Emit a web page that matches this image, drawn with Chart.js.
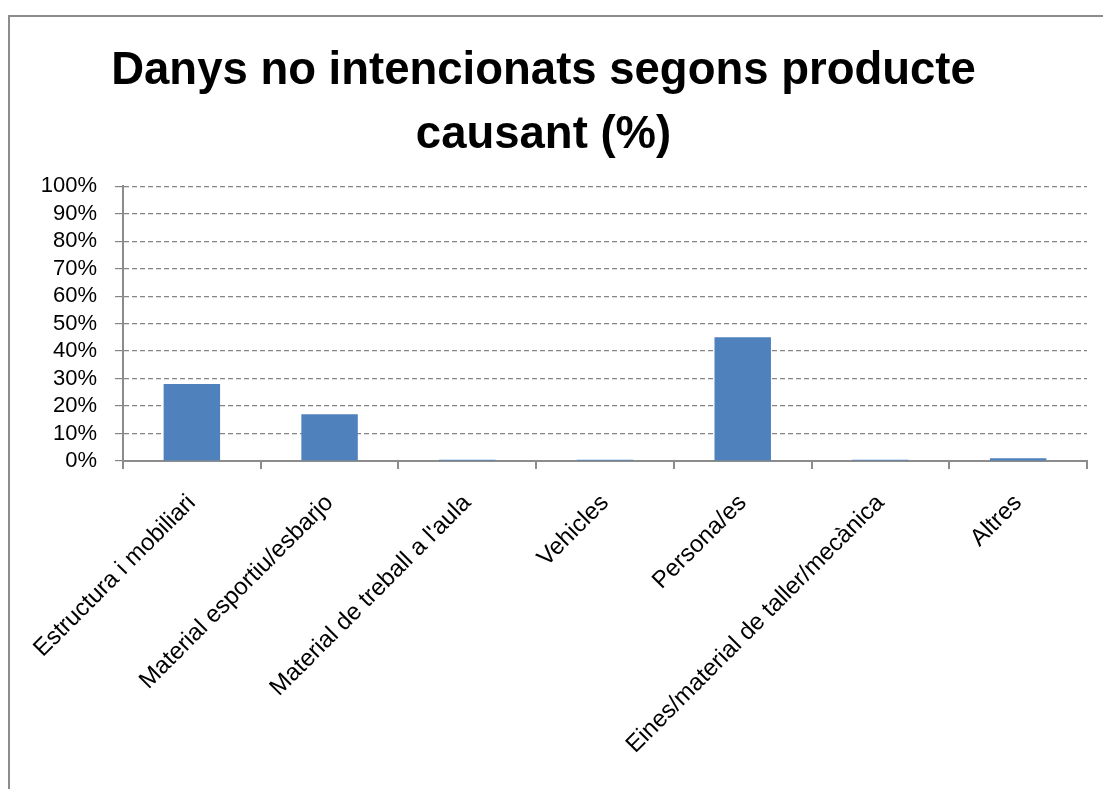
<!DOCTYPE html>
<html>
<head>
<meta charset="utf-8">
<script src="https://cdn.jsdelivr.net/npm/chart.js@4"></script>
<style>
  body { margin: 0; background: #fff; overflow: hidden; }
  #frame {
    position: absolute; left: 8px; top: 15px;
    width: 1200px; height: 900px;
    border: 2px solid #8c8c8c; box-sizing: border-box;
  }
  #wrap { position: absolute; left: 0; top: 0; width: 1103px; height: 789px; }
</style>
</head>
<body>
<div id="frame"></div>
<div id="wrap"><canvas id="chart"></canvas></div>
<script>
// chart data
const categories = [
  "Estructura i mobiliari",
  "Material esportiu/esbarjo",
  "Material de treball a l'aula",
  "Vehicles",
  "Persona/es",
  "Eines/material de taller/mecànica",
  "Altres"
];
const percentages = [28, 17, 0.5, 0.5, 45, 0.5, 1];
const yTicks = [0, 10, 20, 30, 40, 50, 60, 70, 80, 90, 100];

const font = "'Liberation Sans', Arial, sans-serif";

new Chart(document.getElementById("chart"), {
  type: "bar",
  data: {
    labels: categories,
    datasets: [{
      data: percentages,
      backgroundColor: "#4f81bd",
      barPercentage: 0.41,
      categoryPercentage: 1
    }]
  },
  options: {
    responsive: true,
    maintainAspectRatio: false,
    animation: false,
    layout: { padding: { left: 0, right: 16, top: 0, bottom: 0 } },
    plugins: {
      legend: { display: false },
      tooltip: { enabled: false },
      title: {
        display: true,
        text: ["Danys no intencionats segons producte", "causant (%)"],
        color: "#000",
        font: { family: font, size: 45.5, weight: "bold", lineHeight: 1.42 },
        padding: { top: 39, bottom: 18 }
      }
    },
    scales: {
      x: {
        afterFit: axis => { axis.height = 328; },
        grid: { display: true, drawOnChartArea: false, offset: true, color: "#8c8c8c", tickLength: 8, lineWidth: 2 },
        border: { color: "#8c8c8c", width: 2 },
        ticks: {
          color: "#000",
          font: { family: font, size: 24 },
          padding: 20,
          maxRotation: 45, minRotation: 45,
          autoSkip: false
        }
      },
      y: {
        min: 0, max: 100,
        afterFit: axis => { axis.width = 123; },
        afterBuildTicks: axis => { axis.ticks = yTicks.map(v => ({ value: v })); },
        grid: { color: "#858585", tickLength: 8, lineWidth: 1.2 },
        border: { color: "#8c8c8c", width: 2, dash: [5, 3] },
        ticks: {
          color: "#000",
          font: { family: font, size: 22 },
          padding: 18,
          autoSkip: false,
          callback: v => v + "%"
        }
      }
    }
  }
});
</script>
</body>
</html>
